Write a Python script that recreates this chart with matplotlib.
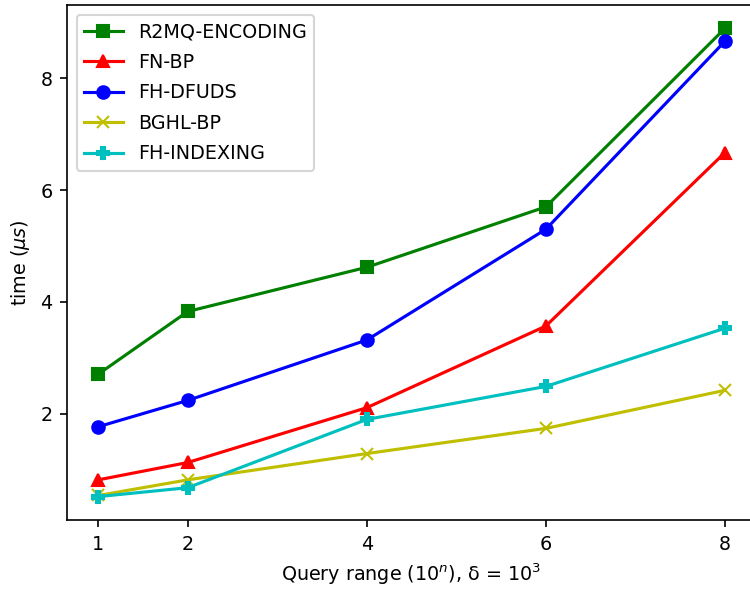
import matplotlib
matplotlib.use("Agg")
import matplotlib.pyplot as plt

# query range exponents
x = [1, 2, 4, 6, 8]

r2mq_encoding = [2.71, 3.83, 4.62, 5.70, 8.89]
fn_bp = [0.82, 1.13, 2.11, 3.57, 6.67]
fh_dfuds = [1.77, 2.24, 3.32, 5.30, 8.66]
bghl_bp = [0.54, 0.82, 1.29, 1.74, 2.42]
fh_indexing = [0.52, 0.68, 1.90, 2.49, 3.53]

series = [
    ("R2MQ-ENCODING", r2mq_encoding, "g", "s"),
    ("FN-BP", fn_bp, "r", "^"),
    ("FH-DFUDS", fh_dfuds, "b", "o"),
    ("BGHL-BP", bghl_bp, "y", "x"),
    ("FH-INDEXING", fh_indexing, "c", "P"),
]

plt.rcParams["font.size"] = 9.2

fig = plt.figure(figsize=(5, 589 / 150), dpi=150)
# axes run slightly past the right edge of the canvas
ax = fig.add_axes([0.0893, 0.1171, 0.919, 0.8744])

for label, vals, color, marker in series:
    ax.plot(x, vals, color=color, marker=marker, label=label)

ax.set_xticks(x)
ax.set_yticks([2, 4, 6, 8])
ax.set_xlabel(r"Query range ($10^n$), δ = $10^3$")
ax.set_ylabel(r"time ($\mu s$)")
ax.legend(loc="upper left", labelspacing=0.6)

fig.savefig("out.png", dpi=150)
